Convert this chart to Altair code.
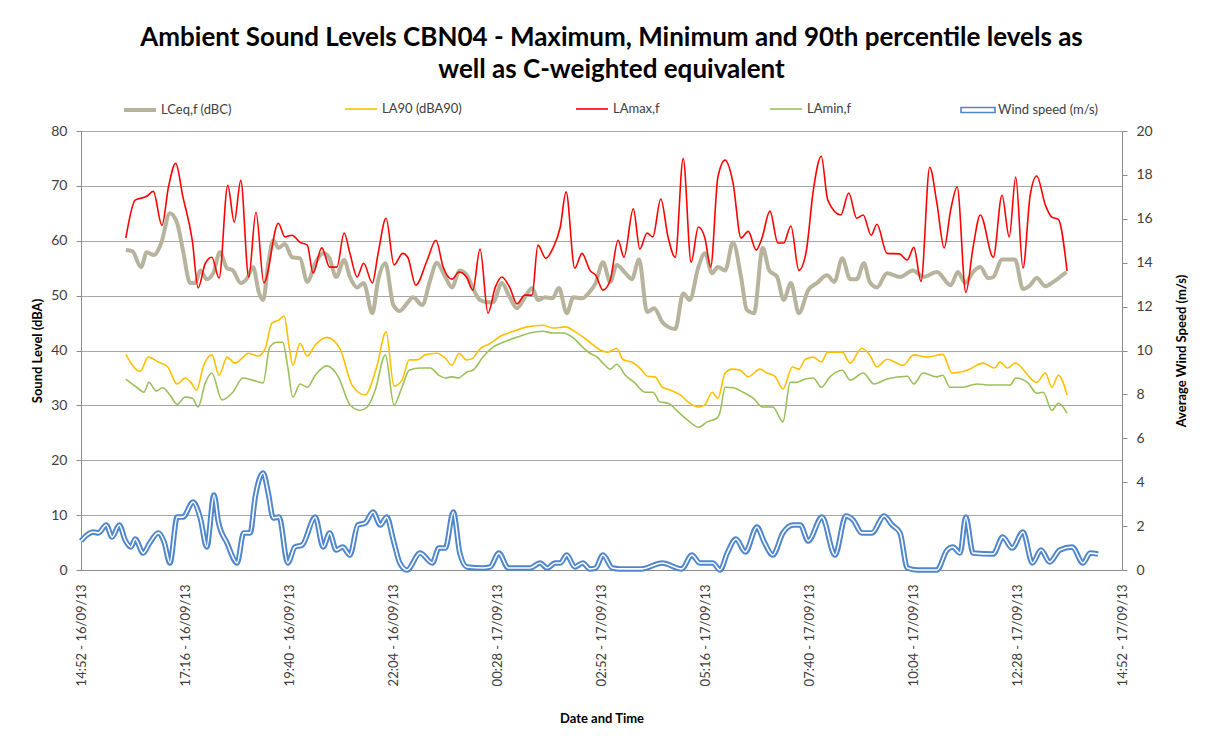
import altair as alt
import pandas as pd

# ---- tick labels (x axis every 2h24m from 14:52 16/09/13) ----
x_tick_labels = ["14:52 - 16/09/13", "17:16 - 16/09/13", "19:40 - 16/09/13", "22:04 - 16/09/13",
                 "00:28 - 17/09/13", "02:52 - 17/09/13", "05:16 - 17/09/13", "07:40 - 17/09/13",
                 "10:04 - 17/09/13", "12:28 - 17/09/13", "14:52 - 17/09/13"]

sound_names = ["LCeq,f  (dBC)", "LA90  (dBA90)", "LAmax,f", "LAmin,f"]
sound_colors = ["#B8B39C", "#FFC000", "#FF0000", "#9BC15A"]
sound_widths = [4, 1.6, 1.6, 1.6]
wind_name = "Wind speed (m/s)"
wind_color = "#4F86CC"

# ---- data: minutes after 14:52 on 16/09/13, and values ----
lamax_min = [62, 75, 91, 100, 112, 121, 131, 141, 154, 162, 172, 181, 191, 203, 212, 221, 232, 242, 253, 273,
             282, 292, 303, 313, 321, 333, 344, 354, 364, 372, 382, 391, 403, 411, 422, 433, 445, 452, 463, 479,
             491, 501, 513, 523, 534, 542, 552, 563, 573, 582, 593, 603, 614, 624, 632, 643, 653, 663, 671, 683,
             693, 704, 712, 722, 732, 743, 751, 764, 773, 783, 791, 802, 812, 822, 833, 844, 854, 863, 871, 881,
             891, 902, 913, 923, 934, 942, 953, 964, 972, 982, 993, 1003, 1013, 1024, 1033, 1051, 1062, 1073,
             1082, 1093, 1101, 1115, 1132, 1143, 1152, 1162, 1174, 1184, 1194, 1203, 1212, 1224, 1234, 1244,
             1262, 1274, 1284, 1293, 1303, 1313, 1322, 1334, 1343, 1352, 1364]
lamax_db = [60.5, 67.4, 68.1, 69.0, 62.8, 69.8, 74.1, 68.0, 60.0, 51.4, 55.9, 57.0, 53.2, 70.1, 63.4, 71.0, 53.4,
            65.2, 52.3, 63.2, 60.7, 61.0, 59.7, 59.2, 54.1, 58.7, 55.2, 55.2, 61.4, 57.7, 53.4, 55.9, 52.3, 57.7,
            64.1, 55.6, 57.7, 57.0, 51.9, 56.5, 60.1, 55.2, 53.0, 54.3, 53.2, 51.0, 58.5, 46.8, 51.5, 53.4, 51.5,
            48.5, 50.1, 50.1, 59.2, 56.8, 58.7, 62.5, 68.9, 55.0, 57.7, 54.6, 53.7, 51.0, 52.8, 60.1, 57.0, 65.8,
            58.5, 61.4, 60.7, 67.6, 60.7, 57.0, 75.0, 56.1, 62.5, 60.5, 55.2, 71.6, 74.7, 70.5, 60.5, 61.7, 58.3,
            60.5, 65.4, 59.6, 59.6, 62.7, 54.6, 57.9, 69.2, 75.4, 67.4, 64.7, 68.7, 64.1, 64.7, 61.0, 63.0, 57.7,
            57.6, 56.5, 58.8, 52.6, 73.4, 66.8, 58.7, 65.6, 69.8, 50.6, 58.8, 64.7, 57.0, 68.3, 60.7, 71.6, 55.0,
            68.3, 71.8, 66.5, 64.3, 63.9, 54.5]

lceq_min = [62, 71, 83, 91, 101, 111, 123, 133, 141, 151, 158, 165, 174, 183, 192, 202, 210, 221, 230, 238, 246,
            252, 259, 266, 273, 282, 292, 303, 313, 324, 335, 343, 353, 364, 372, 382, 391, 403, 411, 421, 432,
            441, 451, 459, 472, 483, 492, 504, 513, 524, 534, 542, 552, 562, 570, 582, 593, 603, 614, 624, 632,
            642, 652, 661, 672, 681, 693, 703, 712, 722, 732, 741, 753, 762, 772, 783, 793, 804, 812, 822, 833,
            842, 854, 863, 873, 881, 891, 902, 913, 921, 931, 943, 952, 963, 972, 982, 993, 1006, 1018, 1032,
            1042, 1053, 1064, 1073, 1083, 1091, 1101, 1115, 1133, 1151, 1165, 1184, 1203, 1213, 1223, 1234, 1244,
            1255, 1262, 1274, 1292, 1303, 1313, 1322, 1334, 1345, 1363]
lceq_db = [58.3, 58.1, 55.2, 57.9, 57.4, 59.6, 65.0, 63.2, 58.3, 52.3, 52.3, 54.6, 53.0, 54.1, 57.9, 55.0, 54.6,
           52.3, 53.2, 55.2, 50.6, 49.2, 55.9, 60.1, 58.7, 59.4, 57.0, 56.8, 52.5, 55.9, 57.7, 57.0, 53.4, 56.5,
           53.4, 51.5, 52.3, 46.8, 52.8, 55.9, 48.3, 47.2, 48.6, 49.7, 48.3, 52.8, 56.0, 53.4, 51.5, 54.6, 53.7,
           51.4, 49.2, 48.8, 48.8, 52.3, 49.7, 47.7, 49.7, 51.4, 49.2, 49.7, 49.5, 51.4, 46.8, 49.7, 49.5, 50.6,
           52.3, 56.1, 52.5, 55.6, 54.1, 53.0, 56.6, 47.0, 47.7, 45.2, 44.3, 43.9, 50.4, 49.2, 55.2, 57.7, 54.1,
           55.2, 54.6, 59.7, 53.4, 47.4, 46.8, 58.7, 54.6, 53.4, 49.2, 52.3, 46.8, 51.0, 52.3, 53.7, 52.5, 56.8,
           53.0, 53.0, 55.9, 52.5, 51.5, 54.1, 53.4, 54.6, 53.4, 54.3, 51.9, 54.3, 52.3, 54.3, 55.2, 53.2, 53.4,
           56.6, 56.6, 51.2, 51.9, 53.2, 51.7, 52.5, 54.3]

la90_min = [62, 82, 93, 107, 120, 133, 144, 152, 160, 169, 181, 191, 202, 213, 223, 231, 245, 255, 264, 273, 281,
            288, 293, 303, 313, 324, 340, 358, 375, 393, 409, 422, 433, 444, 454, 465, 476, 492, 504, 513, 523,
            533, 541, 552, 566, 580, 598, 617, 639, 653, 670, 686, 704, 718, 729, 741, 750, 762, 773, 784, 794,
            804, 815, 829, 842, 854, 863, 873, 881, 891, 901, 912, 923, 939, 949, 960, 971, 984, 993, 1002, 1013,
            1024, 1033, 1053, 1064, 1080, 1091, 1101, 1115, 1137, 1152, 1170, 1192, 1205, 1226, 1248, 1264, 1271,
            1282, 1292, 1322, 1334, 1343, 1352, 1364]
la90_db = [39.3, 36.2, 38.8, 37.9, 37.0, 33.9, 35.0, 34.2, 32.8, 37.0, 39.2, 35.5, 38.8, 37.7, 38.6, 39.5, 39.0,
           40.4, 45.0, 45.5, 46.3, 40.6, 37.3, 41.3, 39.0, 41.0, 42.4, 40.4, 33.7, 31.9, 37.0, 43.4, 33.5, 34.6,
           38.3, 38.3, 39.2, 39.5, 38.6, 37.3, 39.5, 38.3, 38.5, 40.3, 41.3, 42.6, 43.5, 44.3, 44.6, 44.1, 44.3,
           43.2, 41.5, 40.1, 39.7, 40.4, 38.3, 37.9, 36.8, 35.3, 35.2, 33.3, 32.8, 31.9, 30.4, 29.7, 30.1, 32.4,
           31.3, 35.9, 36.6, 36.4, 35.2, 36.6, 35.9, 35.3, 33.0, 37.0, 36.6, 38.4, 38.8, 37.9, 39.7, 39.7, 37.7,
           40.4, 39.2, 37.0, 38.4, 37.3, 39.2, 38.8, 39.3, 35.9, 36.4, 37.7, 36.8, 37.9, 36.8, 37.7, 34.2, 35.9,
           33.3, 35.5, 31.9]

lamin_min = [62, 77, 87, 94, 104, 113, 123, 133, 144, 154, 162, 172, 181, 195, 210, 224, 237, 252, 261, 271, 279,
             286, 293, 303, 313, 324, 340, 356, 372, 386, 396, 407, 421, 433, 444, 454, 469, 483, 495, 504, 513,
             522, 534, 542, 556, 570, 584, 607, 621, 639, 652, 667, 681, 694, 704, 714, 722, 732, 741, 753, 766,
             780, 791, 801, 812, 826, 842, 854, 866, 880, 884, 891, 902, 916, 930, 943, 957, 971, 981, 990, 1002,
             1013, 1024, 1036, 1053, 1064, 1082, 1097, 1115, 1143, 1152, 1165, 1184, 1192, 1202, 1220, 1239, 1257,
             1285, 1293, 1310, 1322, 1331, 1343, 1352, 1364]
lamin_db = [34.8, 33.3, 32.4, 34.2, 32.6, 33.2, 31.9, 30.2, 31.5, 31.3, 29.7, 34.1, 35.9, 31.0, 32.4, 35.0, 34.6,
            34.1, 40.6, 41.5, 41.5, 37.0, 31.5, 33.9, 33.3, 35.5, 37.2, 35.2, 30.1, 29.1, 29.7, 32.8, 39.2, 30.1,
            33.3, 36.4, 36.8, 36.8, 35.5, 35.0, 35.2, 35.0, 36.1, 36.4, 38.8, 40.6, 41.5, 42.6, 43.2, 43.5, 43.2,
            43.2, 42.3, 40.6, 39.5, 38.8, 37.7, 36.6, 37.5, 35.5, 34.1, 32.4, 32.4, 30.6, 30.4, 28.8, 27.0, 26.0,
            27.0, 27.7, 28.8, 33.3, 33.2, 32.4, 31.3, 29.7, 29.7, 27.0, 34.2, 34.2, 34.8, 35.0, 33.3, 35.2, 36.4,
            34.6, 35.9, 33.9, 34.8, 35.3, 33.9, 35.9, 35.2, 35.5, 33.3, 33.3, 33.9, 33.7, 33.7, 35.0, 34.1, 32.2,
            32.4, 29.1, 30.4, 28.6]

wind_min = [0, 8, 17, 24, 35, 43, 53, 61, 69, 75, 86, 95, 107, 115, 123, 133, 141, 155, 165, 174, 184, 190, 202,
            216, 225, 234, 241, 252, 259, 266, 274, 286, 296, 306, 324, 335, 344, 353, 362, 372, 383, 393, 404,
            414, 423, 432, 441, 451, 469, 486, 495, 504, 515, 524, 534, 556, 566, 578, 591, 621, 635, 645, 656,
            663, 672, 683, 694, 704, 712, 722, 735, 746, 775, 804, 831, 845, 856, 874, 884, 894, 906, 919, 935,
            945, 957, 971, 985, 995, 1006, 1025, 1043, 1058, 1068, 1080, 1094, 1111, 1122, 1133, 1143, 1157,
            1184, 1198, 1206, 1216, 1224, 1234, 1262, 1275, 1288, 1303, 1316, 1328, 1340, 1354, 1371, 1386, 1396,
            1407]
wind_ms = [1.32, 1.59, 1.73, 1.69, 2.05, 1.50, 2.05, 1.37, 1.05, 1.41, 0.77, 1.23, 1.69, 1.28, 0.32, 2.41, 2.41,
           3.10, 2.37, 1.05, 3.42, 2.19, 1.23, 0.32, 1.69, 1.69, 3.33, 4.42, 3.51, 2.37, 2.41, 0.32, 1.05, 1.14,
           2.41, 1.05, 1.69, 0.91, 1.05, 0.68, 2.05, 2.14, 2.64, 2.05, 2.41, 1.37, 0.32, 0.0, 0.77, 0.32, 1.0,
           1.0, 2.64, 0.77, 0.14, 0.09, 0.14, 0.77, 0.09, 0.09, 0.32, 0.09, 0.32, 0.32, 0.68, 0.14, 0.32, 0.05,
           0.09, 0.68, 0.09, 0.05, 0.05, 0.32, 0.05, 0.68, 0.32, 0.32, 0.0, 0.77, 1.41, 0.82, 1.96, 1.28, 0.68,
           1.69, 2.05, 2.05, 1.32, 2.41, 0.68, 2.46, 2.28, 1.69, 1.69, 2.46, 2.05, 1.69, 0.09, 0.0, 0.0, 0.91,
           1.05, 0.77, 2.41, 0.77, 0.73, 1.50, 1.00, 1.73, 0.32, 0.91, 0.36, 0.91, 1.05, 0.32, 0.77, 0.73]

# ---- build tables ----
frames = []
for name, mins, vals in [(sound_names[0], lceq_min, lceq_db), (sound_names[1], la90_min, la90_db),
                         (sound_names[2], lamax_min, lamax_db), (sound_names[3], lamin_min, lamin_db)]:
    frames.append(pd.DataFrame({"series": name, "hours": [m / 60 for m in mins], "level": vals}))
sound = pd.concat(frames, ignore_index=True)
wind = pd.DataFrame({"series": wind_name, "hours": [m / 60 for m in wind_min], "speed": wind_ms})

FONT = "Lato"
label_array = "[" + ",".join("'" + s + "'" for s in x_tick_labels) + "]"
wind_path = "M-1,-0.15H1V0.15H-1Z"

x_enc = alt.X("hours:Q", scale=alt.Scale(domain=[0, 24], nice=False, zero=False),
              axis=alt.Axis(values=[i * 2.4 for i in range(len(x_tick_labels))],
                            labelExpr=label_array + "[round(datum.value / 2.4)]",
                            labelAngle=270, labelFontSize=13, labelFont=FONT, labelColor="#404040",
                            labelPadding=14, ticks=False, grid=False, domainColor="#8C8C8C",
                            title="Date and Time", titleFont=FONT, titleFontSize=13, titleFontWeight="bold",
                            titleColor="#000000", titlePadding=27))

sound_legend = alt.Legend(orient="none", legendX=41, legendY=-39, direction="horizontal",
                          columns=4, gridAlign="none", columnPadding=106, title=None,
                          symbolType="stroke", symbolSize=1024, labelOffset=3,
                          labelFont=FONT, labelFontSize=13, labelColor="#404040")

sound_lines = alt.Chart(sound).mark_line(interpolate="monotone").encode(
    x=x_enc,
    y=alt.Y("level:Q", scale=alt.Scale(domain=[0, 80], nice=False),
            axis=alt.Axis(values=list(range(0, 81, 10)), orient="left", grid=True, gridColor="#A6A6A6",
                          domainColor="#8C8C8C", tickColor="#8C8C8C", tickSize=5, labelPadding=9,
                          labelFont=FONT, labelFontSize=14, labelColor="#404040",
                          title="Sound Level (dBA)", titleFont=FONT, titleFontSize=13, titleFontWeight="bold",
                          titleColor="#000000", titlePadding=6)),
    color=alt.Color("series:N", scale=alt.Scale(domain=sound_names, range=sound_colors), legend=sound_legend),
    strokeWidth=alt.StrokeWidth("series:N",
                                scale=alt.Scale(type="ordinal", domain=sound_names, range=sound_widths),
                                legend=sound_legend),
    order=alt.Order("hours:Q"),
)

wind_y_axis = alt.Axis(values=list(range(0, 21, 2)), orient="right", grid=False, domainColor="#8C8C8C",
                       tickColor="#8C8C8C", tickSize=5, labelPadding=9, labelFont=FONT, labelFontSize=14,
                       labelColor="#404040", title="Average Wind Speed (m/s)", titleFont=FONT, titleFontSize=13,
                       titleFontWeight="bold", titleColor="#000000", titleAngle=270, titlePadding=36)

wind_outer = alt.Chart(wind).mark_line(interpolate="monotone", strokeWidth=5.5).encode(
    x=x_enc,
    y=alt.Y("speed:Q", scale=alt.Scale(domain=[0, 20], nice=False), axis=wind_y_axis),
    stroke=alt.Stroke("series:N", scale=alt.Scale(domain=[wind_name], range=[wind_color]),
                      legend=alt.Legend(orient="none", legendX=879, legendY=-39, title=None,
                                        symbolType=wind_path, symbolSize=1156, symbolStrokeWidth=1.6,
                                        symbolFillColor="#FFFFFF", labelOffset=2,
                                        labelFont=FONT, labelFontSize=13, labelColor="#404040")),
    order=alt.Order("hours:Q"),
)
wind_inner = alt.Chart(wind).mark_line(interpolate="monotone", strokeWidth=1.6, color="#FFFFFF").encode(
    x=x_enc,
    y=alt.Y("speed:Q", scale=alt.Scale(domain=[0, 20], nice=False), axis=wind_y_axis),
    order=alt.Order("hours:Q"),
)

wind_layer = alt.layer(wind_outer, wind_inner)

chart = alt.layer(sound_lines, wind_layer).resolve_scale(y="independent").properties(
    width=1041, height=439,
    padding={"left": 73, "top": 123, "right": 82, "bottom": 162},
    autosize=alt.AutoSizeParams(type="none"),
    title=alt.TitleParams(
        text=["Ambient Sound Levels CBN04 - Maximum, Minimum and 90th percentile levels  as",
              "well as C-weighted equivalent"],
        font=FONT, fontSize=26, fontWeight="bold", color="#000000", anchor="middle",
        lineHeight=32, dx=10, offset=9),
).configure_view(strokeWidth=0).configure(background="#FFFFFF")

chart.save("out.html", embed_options={"renderer": "svg", "actions": False})
